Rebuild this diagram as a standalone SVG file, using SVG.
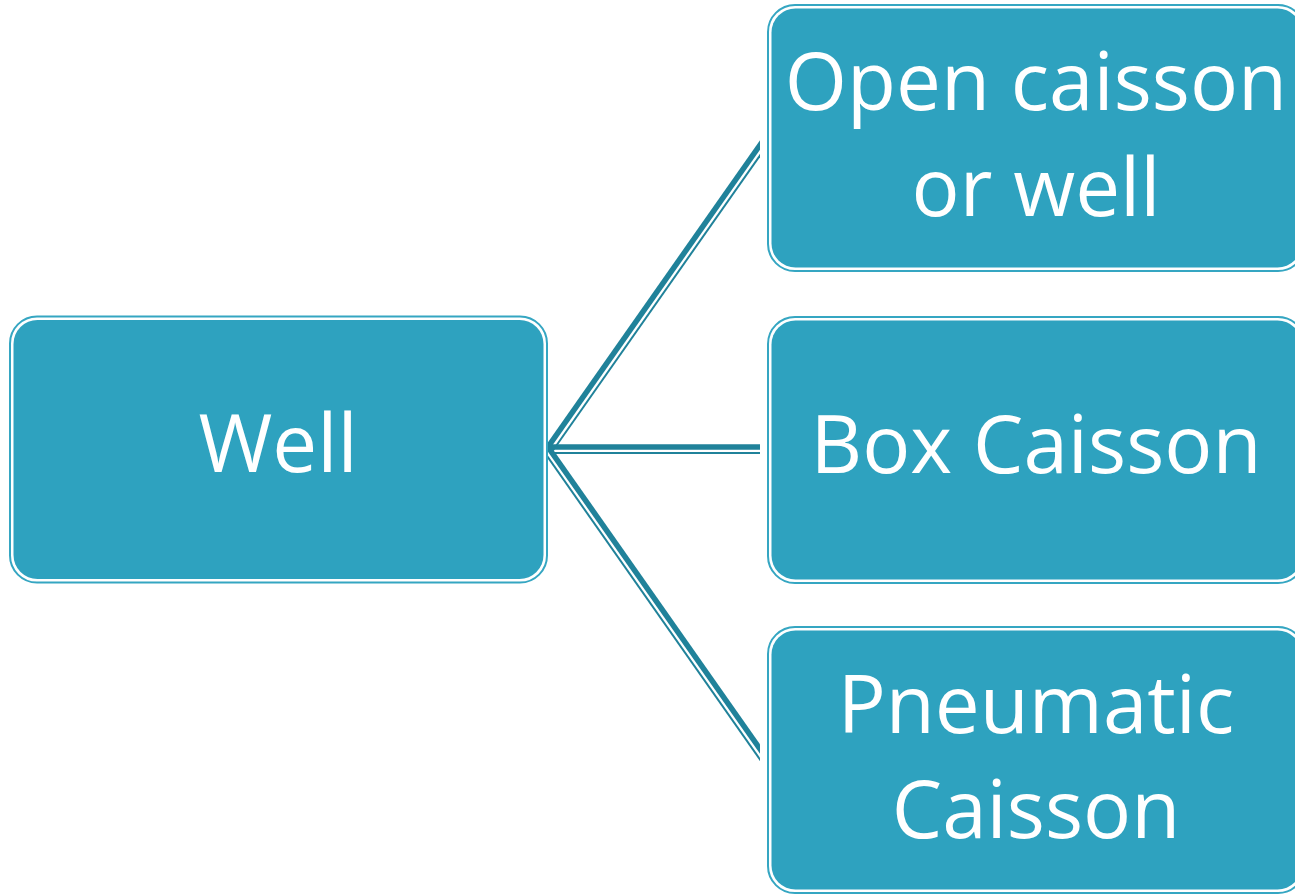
<svg xmlns="http://www.w3.org/2000/svg" width="1295" height="895" viewBox="0 0 1295 895">
<style>
.outer{fill:none;stroke:#35a6c2;stroke-width:2}
.inner{fill:#2ea2bf}
.lbl{font-family:"Open Sans","DejaVu Sans",sans-serif;font-size:80px;fill:#ffffff;text-anchor:middle}
.thick{stroke:#20829a;stroke-width:5.5;fill:none}
.thin{stroke:#20829a;stroke-width:2;fill:none}
</style>
<defs>
<clipPath id="clip"><rect x="546" y="0" width="214" height="895"/></clipPath>
</defs>
<rect width="1295" height="895" fill="#ffffff"/>
<g id="connectors" clip-path="url(#clip)">
<line class="thick" x1="548" y1="447" x2="780" y2="116.5"/>
<line class="thin" x1="552.9" y1="450.45" x2="780" y2="126.9"/>
<line class="thick" x1="548" y1="447" x2="780" y2="447"/>
<line class="thin" x1="553" y1="453" x2="780" y2="453"/>
<line class="thick" x1="548" y1="447" x2="780" y2="777.5"/>
<line class="thin" x1="543.1" y1="450.45" x2="780" y2="787.95"/>
</g>
<g id="well">
<rect class="outer" x="10" y="316.5" width="537" height="266" rx="27"/>
<rect class="inner" x="13.5" y="320" width="530" height="259" rx="24"/>
<text class="lbl" x="278" y="472">Well</text>
</g>
<g id="open-caisson">
<rect class="outer" x="768" y="5" width="537" height="266" rx="27"/>
<rect class="inner" x="771.5" y="8.5" width="530" height="259" rx="24"/>
<text class="lbl" x="1036" y="110">Open caisson</text>
<text class="lbl" x="1036" y="216">or well</text>
</g>
<g id="box-caisson">
<rect class="outer" x="768" y="317" width="537" height="266" rx="27"/>
<rect class="inner" x="771.5" y="320.5" width="530" height="259" rx="24"/>
<text class="lbl" x="1036" y="473">Box Caisson</text>
</g>
<g id="pneumatic-caisson">
<rect class="outer" x="768" y="627" width="537" height="266" rx="27"/>
<rect class="inner" x="771.5" y="630.5" width="530" height="259" rx="24"/>
<text class="lbl" x="1036" y="733">Pneumatic</text>
<text class="lbl" x="1036" y="838">Caisson</text>
</g>
</svg>
